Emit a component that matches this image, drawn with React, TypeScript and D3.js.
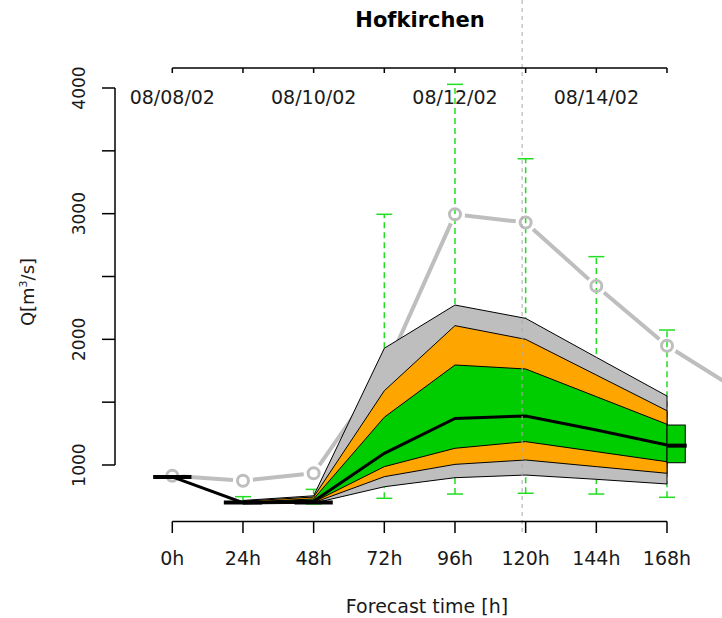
import React from "react";
import * as d3 from "d3";

// ---- data ----
const tickHours = [0, 24, 48, 72, 96, 120, 144, 168];
const tickLabels = ["0h", "24h", "48h", "72h", "96h", "120h", "144h", "168h"];
const dateHours = [0, 48, 96, 144];
const dateLabels = ["08/08/02", "08/10/02", "08/12/02", "08/14/02"];
const yTicks = [1000, 1500, 2000, 2500, 3000, 3500, 4000];
const yTickLabels = [1000, 2000, 3000, 4000];

const obsHours = [0, 24, 48, 72, 96, 120, 144, 168, 192];
const obsValues = [915, 875, 934, 1740, 2995, 2930, 2424, 1949, 1597];

const bandHours = [24, 48, 72, 96, 120, 144, 168];
const grayLo = [690, 696, 827, 899, 920, 886, 849];
const orangeLo = [693, 700, 907, 1005, 1040, 987, 934];
const greenLo = [697, 705, 987, 1133, 1186, 1106, 1026];
const greenHi = [704, 730, 1380, 1796, 1764, 1544, 1324];
const orangeHi = [712, 745, 1591, 2109, 2000, 1716, 1432];
const grayHi = [718, 755, 1929, 2273, 2167, 1857, 1549];

const medianHours = [0, 24, 48, 72, 96, 120, 144, 168];
const medianValues = [905, 700, 712, 1093, 1371, 1390, 1278, 1159];
const stubHours = [0, 24, 48];
const stubValues = [905, 702, 702];

const errHours = [24, 48, 72, 96, 120, 144, 168];
const errLo = [708, 690, 735, 769, 775, 769, 743];
const errHi = [748, 806, 2995, 4029, 3437, 2658, 2074];

const boxLo = 1018;
const boxHi = 1318;
const boxMed = 1154;
const nowHour = 118.8;

export default function App() {
  const W = 722, H = 618;
  const x = d3.scaleLinear().domain([0, 168]).range([172.3, 667]);
  const y = d3.scaleLinear().domain([1000, 4000]).range([465, 88]);
  const font = "DejaVu Sans";
  const gray = "#BEBEBE";
  const ink = "#1a1a1a";

  const band = (lo: number[], hi: number[]) => {
    const area = d3
      .area<number>()
      .x((_, i) => x(bandHours[i]))
      .y0((_, i) => y(lo[i]))
      .y1((_, i) => y(hi[i]));
    return area(bandHours) as string;
  };

  const medLine = d3
    .line<number>()
    .x((_, i) => x(medianHours[i]))
    .y((_, i) => y(medianValues[i]))(medianHours) as string;

  // observed line segments with gaps around points (type "b")
  const gap = 10;
  const segs: { x1: number; y1: number; x2: number; y2: number }[] = [];
  for (let i = 0; i < obsHours.length - 1; i++) {
    const ax = x(obsHours[i]), ay = y(obsValues[i]);
    const bx = x(obsHours[i + 1]), by = y(obsValues[i + 1]);
    const len = Math.hypot(bx - ax, by - ay);
    const ux = (bx - ax) / len, uy = (by - ay) / len;
    segs.push({ x1: ax + ux * gap, y1: ay + uy * gap, x2: bx - ux * gap, y2: by - uy * gap });
  }

  const errColor = "#22DD22";
  const capW = 8;

  return (
    <svg width={W} height={H} style={{ position: "absolute", left: 0, top: 0, background: "#fff" }}
      fontFamily={font} fill={ink}>
      <rect x={0} y={0} width={W} height={H} fill="#fff" />
      {/* title */}
      <text x={420} y={27} textAnchor="middle" fontSize={21} fontWeight="bold" fill="#000">Hofkirchen</text>

      {/* error bars */}
      {errHours.map((h, i) => (
        <g key={"e" + i} stroke={errColor} strokeWidth={1.5}>
          <line x1={x(h)} x2={x(h)} y1={y(errLo[i])} y2={y(errHi[i])} strokeDasharray="6,4" />
          <line x1={x(h) - capW} x2={x(h) + capW} y1={y(errLo[i])} y2={y(errLo[i])} />
          <line x1={x(h) - capW} x2={x(h) + capW} y1={y(errHi[i])} y2={y(errHi[i])} />
        </g>
      ))}

      {/* observed (gray) line */}
      {segs.map((s, i) => (
        <line key={"s" + i} x1={s.x1} y1={s.y1} x2={s.x2} y2={s.y2} stroke={gray} strokeWidth={4} />
      ))}
      {obsHours.map((h, i) => (
        <circle key={"c" + i} cx={x(h)} cy={y(obsValues[i])} r={5.5} fill="none" stroke={gray} strokeWidth={3} />
      ))}

      {/* bands */}
      <path d={band(grayLo, grayHi)} fill={gray} stroke="#000" strokeWidth={1} />
      <path d={band(orangeLo, orangeHi)} fill="#FFA500" stroke="#000" strokeWidth={1} />
      <path d={band(greenLo, greenHi)} fill="#00CD00" stroke="#000" strokeWidth={1} />

      {/* median */}
      <path d={medLine} fill="none" stroke="#000" strokeWidth={3} />
      {stubHours.map((h, i) => (
        <line key={"m" + i} x1={x(h - 6.5)} x2={x(h + 6.5)} y1={y(stubValues[i])} y2={y(stubValues[i])}
          stroke="#000" strokeWidth={4} />
      ))}

      {/* box at 168h */}
      <rect x={x(168)} y={y(boxHi)} width={x(174.2) - x(168)} height={y(boxLo) - y(boxHi)}
        fill="#00CD00" stroke="#000" strokeWidth={1} />
      <line x1={x(168)} x2={x(174.7)} y1={y(boxMed)} y2={y(boxMed)} stroke="#000" strokeWidth={4} />

      {/* now line */}
      <line x1={x(nowHour)} x2={x(nowHour)} y1={0} y2={533} stroke="#AAAAAA" strokeWidth={1} strokeDasharray="4,4" />

      {/* y axis */}
      <line x1={115} x2={115} y1={y(1000)} y2={y(4000)} stroke="#000" strokeWidth={1.5} />
      {yTicks.map((v) => (
        <line key={"yt" + v} x1={102} x2={115} y1={y(v)} y2={y(v)} stroke="#000" strokeWidth={1.5} />
      ))}
      {yTickLabels.map((v) => (
        <text key={"yl" + v} transform={`translate(85,${y(v)}) rotate(-90)`} textAnchor="middle" fontSize={17}>{v}</text>
      ))}
      <text transform="translate(34,292) rotate(-90)" textAnchor="middle" fontSize={18}>
        Q[m<tspan fontSize={11} dy={-7}>3</tspan><tspan dy={7}>/s]</tspan>
      </text>

      {/* bottom axis */}
      <line x1={x(0)} x2={x(168)} y1={521.5} y2={521.5} stroke="#000" strokeWidth={1.5} />
      {tickHours.map((h, i) => (
        <g key={"bt" + i}>
          <line x1={x(h)} x2={x(h)} y1={521.5} y2={533} stroke="#000" strokeWidth={1.5} />
          <text x={x(h)} y={565} textAnchor="middle" fontSize={19}>{tickLabels[i]}</text>
        </g>
      ))}
      <text x={427} y={613} textAnchor="middle" fontSize={19}>Forecast time [h]</text>

      {/* top date axis */}
      <line x1={x(0)} x2={x(168)} y1={68} y2={68} stroke="#000" strokeWidth={1.5} />
      {tickHours.map((h, i) => (
        <line key={"tt" + i} x1={x(h)} x2={x(h)} y1={68} y2={73} stroke="#000" strokeWidth={1.5} />
      ))}
      {dateHours.map((h, i) => (
        <text key={"dl" + i} x={x(h)} y={104} textAnchor="middle" fontSize={19}>{dateLabels[i]}</text>
      ))}
    </svg>
  );
}
